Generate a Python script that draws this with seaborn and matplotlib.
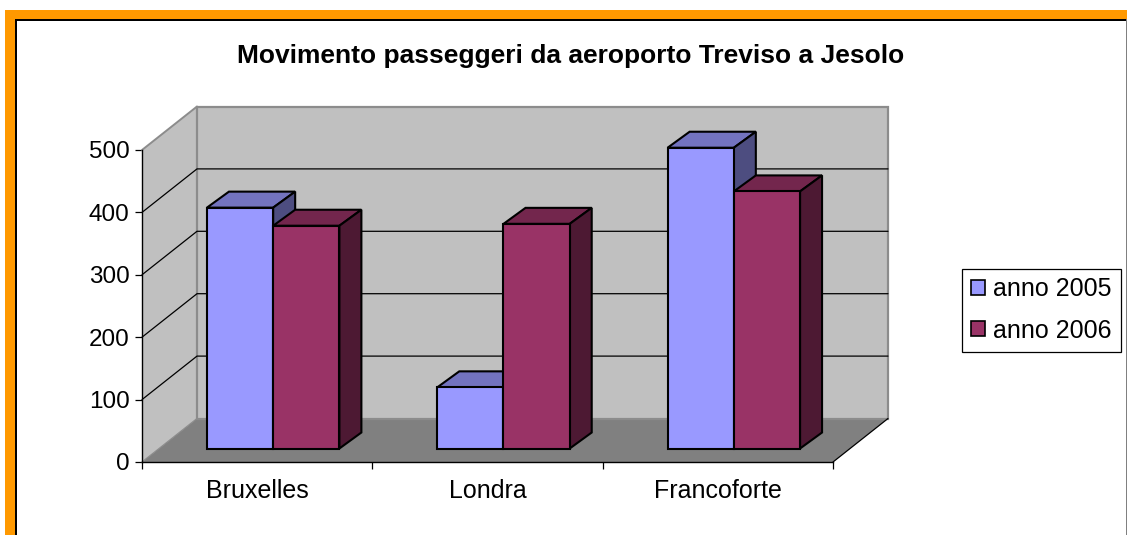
import pandas as pd
import matplotlib
matplotlib.use('Agg')
import matplotlib.pyplot as plt
import seaborn as sns
from matplotlib.patches import Polygon, Rectangle
from matplotlib.lines import Line2D
from matplotlib.transforms import Affine2D, IdentityTransform

categories = ['Bruxelles', 'Londra', 'Francoforte']
anno_2005 = [386, 98, 482]
anno_2006 = [357, 360, 412]
series_names = ['anno 2005', 'anno 2006']
y_ticks = [0, 100, 200, 300, 400, 500]

W, H = 1127, 535
front = ['#9999FF', '#993366']
top = ['#7373BF', '#73264D']
side = ['#4D4D80', '#4D1933']

sns.set_theme(style='white')
plt.rcParams['font.family'] = ['Liberation Sans', 'DejaVu Sans']

df = pd.DataFrame({
    'city': categories * 2,
    'value': anno_2005 + anno_2006,
    'year': [series_names[0]] * 3 + [series_names[1]] * 3,
})

fig = plt.figure(figsize=(W / 100, H / 100), dpi=100, facecolor='white')


# rectangle on the figure, given in image pixels (y from the top)
def frame_rect(x0, y0, x1, y1, color, z):
    fig.patches.append(Rectangle((x0, H - y1), x1 - x0, y1 - y0, transform=IdentityTransform(),
                                 facecolor=color, edgecolor='none', zorder=z, figure=fig))


# orange border, dark inner line
frame_rect(5, 10, W, H, '#FF9900', 0)
frame_rect(15, 19, W, H, '#000000', 1)
frame_rect(17, 21, W - 1, H, '#FFFFFF', 2)
frame_rect(W - 1, 19, W, H, '#808080', 3)

ax = fig.add_axes([142 / W, (H - 462) / H, 691 / W, 312 / H])
ax.patch.set_visible(False)
ax.set_zorder(5)

# depth of the whole box and depth of the bars, in pixels
box_dx, box_dy = 55, 43.5
bar_dx, bar_dy = 22, 16
shift_x, shift_y = 16, 13.5

sns.barplot(data=df, x='city', y='value', hue='year', order=categories, hue_order=series_names,
            palette=front, width=0.575, gap=0, saturation=1, edgecolor='black', linewidth=1.5,
            legend=False, ax=ax, zorder=10)
ax.set_xlim(-0.5, 2.5)
ax.set_ylim(0, 500)
ax.set_xlabel('')
ax.set_ylabel('')

# bars with their series index, left to right
bars = []
for n, cont in enumerate(ax.containers):
    for b in cont:
        bars.append((b, n))
bars.sort(key=lambda item: item[0].get_x())

# walls and floor
x0, y0 = ax.transAxes.transform((0, 0))
x1, y1 = ax.transAxes.transform((1, 1))
ax.add_patch(Polygon([(x0, y0), (x0 + box_dx, y0 + box_dy), (x1 + box_dx, y0 + box_dy), (x1, y0)],
                     transform=IdentityTransform(), facecolor='#808080', edgecolor='none', zorder=1, clip_on=False))
ax.add_patch(Polygon([(x0, y0), (x0 + box_dx, y0 + box_dy), (x0 + box_dx, y1 + box_dy), (x0, y1)],
                     transform=IdentityTransform(), facecolor='#C0C0C0', edgecolor='none', zorder=1, clip_on=False))
ax.add_patch(Rectangle((x0 + box_dx, y0 + box_dy), x1 - x0, y1 - y0, transform=IdentityTransform(),
                       facecolor='#C0C0C0', edgecolor='#8C8C8C', linewidth=1.6, zorder=1, clip_on=False))
ax.add_line(Line2D([x0, x0 + box_dx], [y1, y1 + box_dy], transform=IdentityTransform(),
                   color='#8C8C8C', lw=1.4, zorder=2, clip_on=False))
ax.add_line(Line2D([x1, x1 + box_dx], [y0, y0 + box_dy], transform=IdentityTransform(),
                   color='black', lw=0.9, zorder=2, clip_on=False))
ax.add_line(Line2D([x0, x0 + box_dx], [y0, y0 + box_dy], transform=IdentityTransform(),
                   color='#8C8C8C', lw=0.9, zorder=2, clip_on=False))

# gridlines across left wall and back wall
for v in y_ticks[1:-1]:
    yp = ax.transData.transform((0, v))[1]
    ax.add_line(Line2D([x0, x0 + box_dx, x1 + box_dx], [yp, yp + box_dy, yp + box_dy],
                       transform=IdentityTransform(), color='black', lw=0.9, zorder=3, clip_on=False))

# move the bars into the box and add top and side faces
shift = Affine2D().translate(shift_x, shift_y)
for i, (bar, n) in enumerate(bars):
    bar.set_transform(ax.transData + shift)
    bar.set_clip_on(False)
    bar.set_zorder(10 + i * 3 + 2)
    (lx, by) = ax.transData.transform((bar.get_x(), 0)) + (shift_x, shift_y)
    (rx, ty) = ax.transData.transform((bar.get_x() + bar.get_width(), bar.get_height())) + (shift_x, shift_y)
    ax.add_patch(Polygon([(lx, ty), (lx + bar_dx, ty + bar_dy), (rx + bar_dx, ty + bar_dy), (rx, ty)],
                         transform=IdentityTransform(), facecolor=top[n], edgecolor='black', linewidth=1.5,
                         joinstyle='miter', zorder=10 + i * 3, clip_on=False))
    ax.add_patch(Polygon([(rx, by), (rx + bar_dx, by + bar_dy), (rx + bar_dx, ty + bar_dy), (rx, ty)],
                         transform=IdentityTransform(), facecolor=side[n], edgecolor='black', linewidth=1.5,
                         joinstyle='miter', zorder=10 + i * 3 + 1, clip_on=False))

# axes and ticks
for name in ['top', 'right']:
    ax.spines[name].set_visible(False)
for name in ['left', 'bottom']:
    ax.spines[name].set_visible(True)
    ax.spines[name].set_color('black')
    ax.spines[name].set_linewidth(1.0)
    ax.spines[name].set_zorder(40)
ax.set_yticks(y_ticks)
ax.set_xticks([-0.5, 0.5, 1.5, 2.5], minor=True)
ax.tick_params(axis='x', which='major', length=0, pad=12, labelsize=18, colors='black')
ax.tick_params(axis='x', which='minor', length=5, width=0.9, color='black', bottom=True)
ax.tick_params(axis='y', length=5, width=0.9, color='black', left=True, pad=4, labelsize=17.5, labelcolor='black')

fig.text(571 / W, 1 - 55.5 / H, 'Movimento passeggeri da aeroporto Treviso a Jesolo', ha='center', va='center',
         fontsize=19, fontweight='bold', color='black', zorder=6)

handles = [Rectangle((0, 0), 1, 1, facecolor=c, edgecolor='black', linewidth=1.2) for c in front]
leg = fig.legend(handles, series_names, loc='center left', bbox_to_anchor=(962 / W, 1 - 310 / H),
                 fontsize=18, frameon=True, fancybox=False, edgecolor='black', framealpha=1,
                 handlelength=0.56, handleheight=0.56, handletextpad=0.32, labelspacing=0.68,
                 borderpad=0.36, borderaxespad=0, labelcolor='black')
leg.get_frame().set_linewidth(0.9)
leg.set_zorder(6)

fig.savefig('out.png', dpi=100)
